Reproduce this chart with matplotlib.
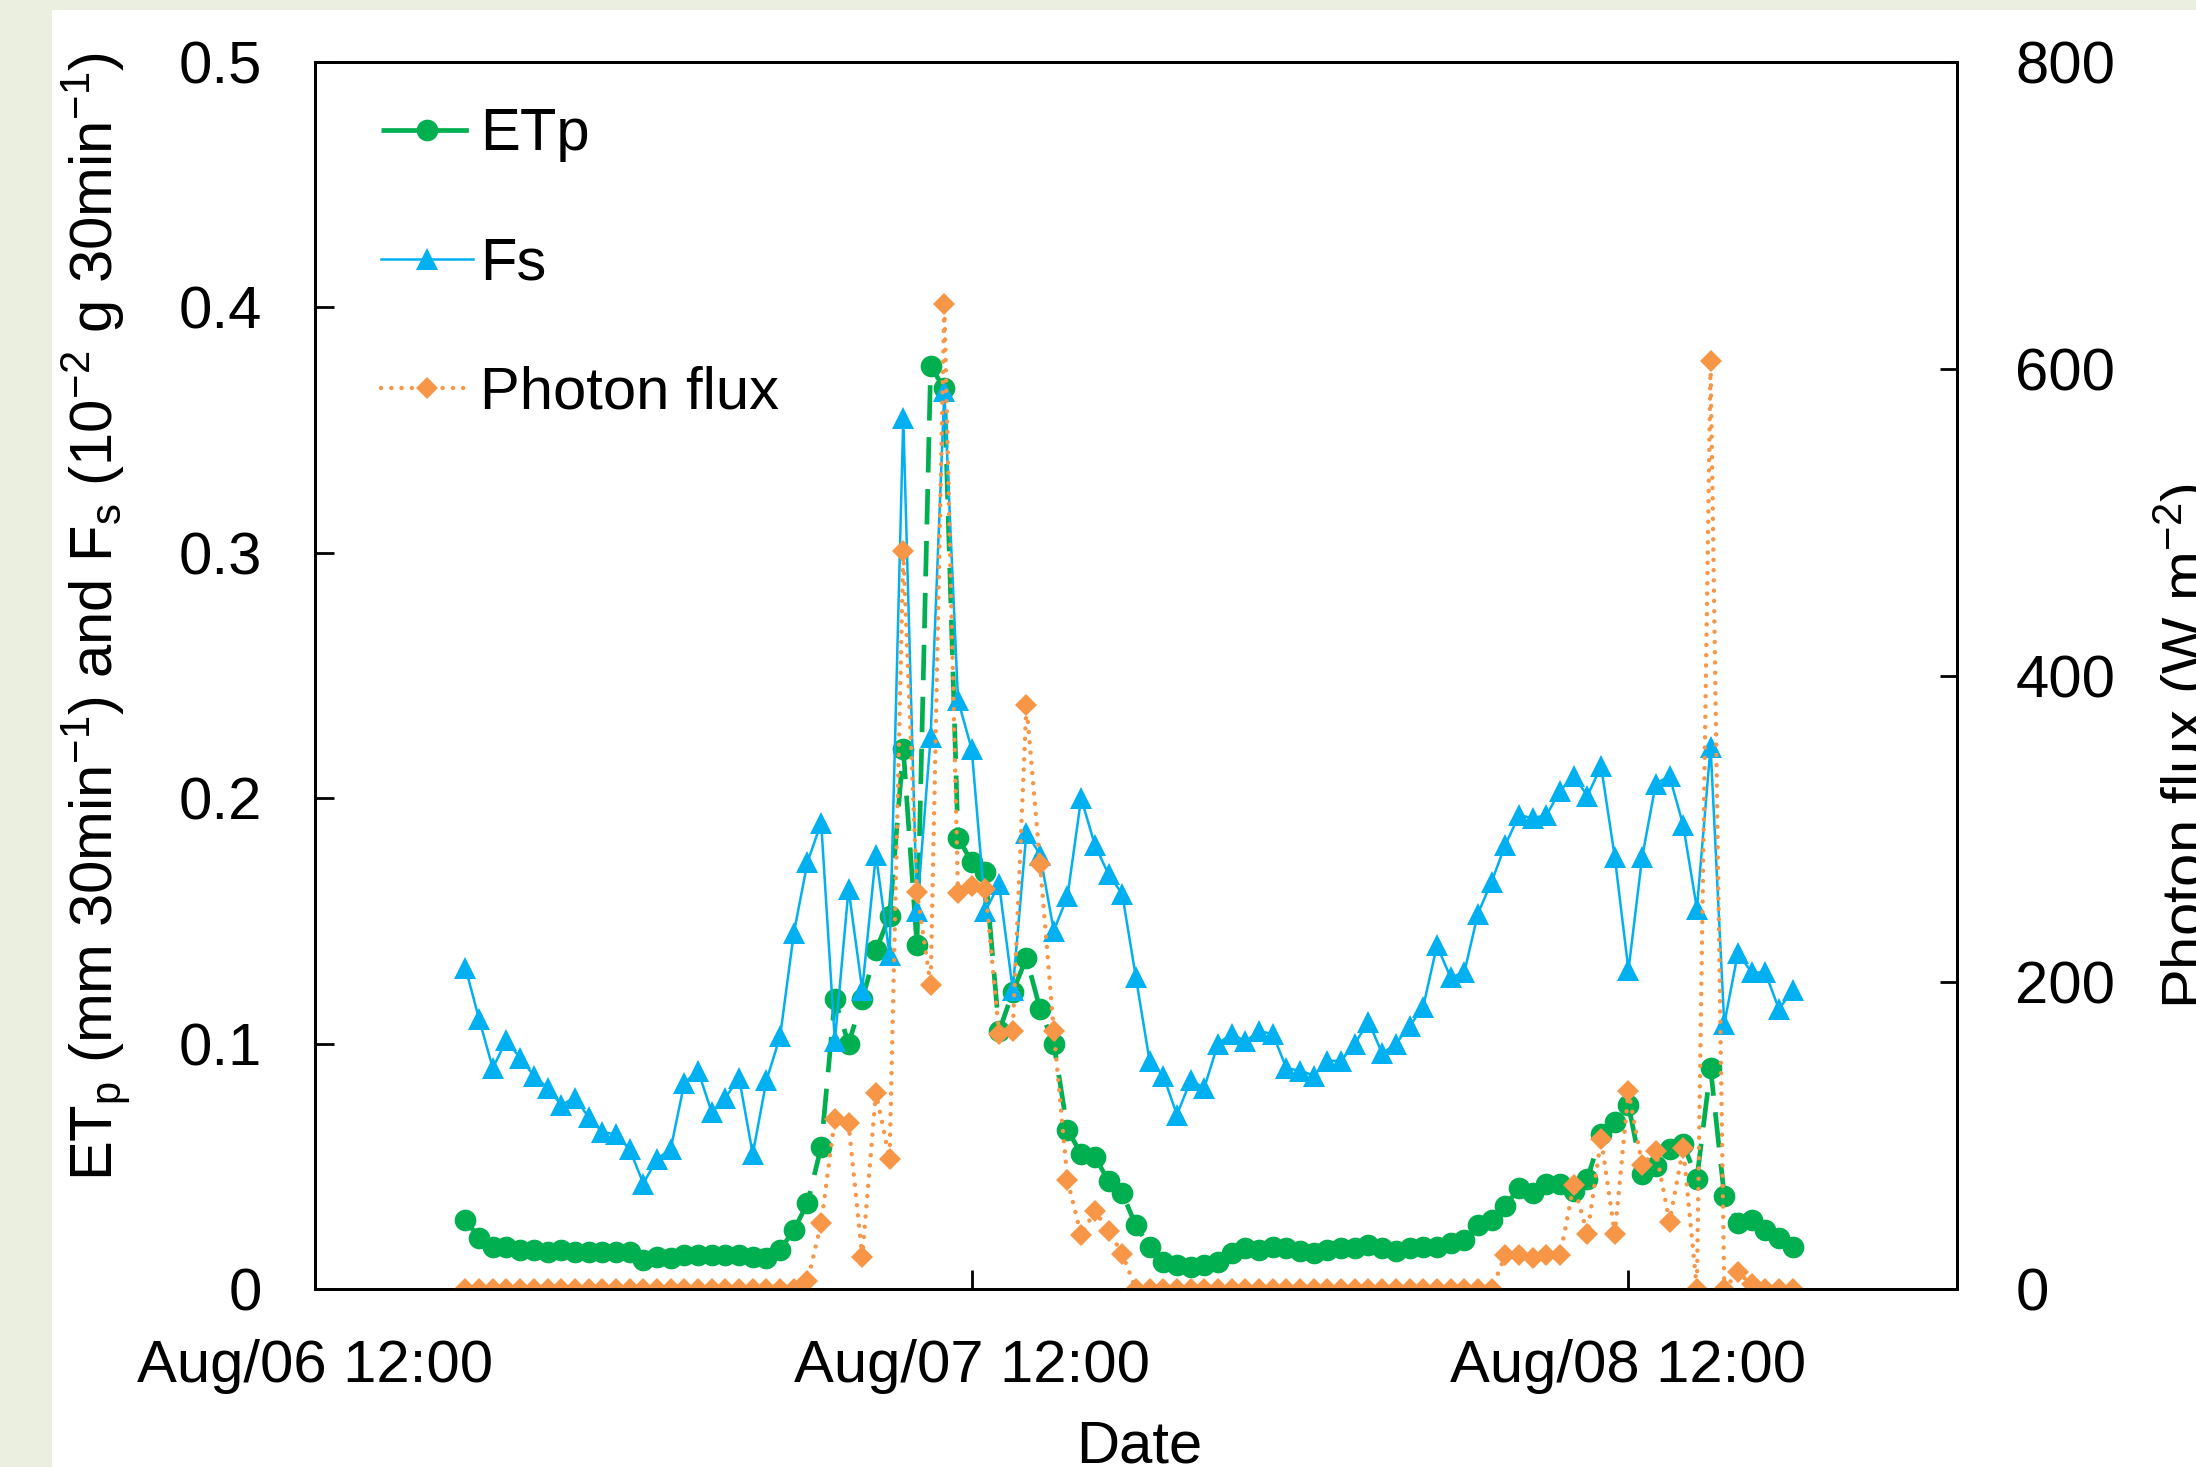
import matplotlib
matplotlib.use("Agg")
import matplotlib.pyplot as plt
import matplotlib.dates as mdates
from matplotlib.patches import Rectangle
from matplotlib.ticker import FuncFormatter
import pandas as pd

plt.rcParams['font.family'] = ['Liberation Sans', 'DejaVu Sans']
plt.rcParams['mathtext.fontset'] = 'custom'
plt.rcParams['mathtext.rm'] = 'Liberation Sans'
plt.rcParams['mathtext.it'] = 'Liberation Sans:italic'

# half-hourly readings, Aug 6 17:30 -> Aug 8 18:00
times = pd.date_range('2014-08-06 17:30', periods=98, freq='30min')

etp = [0.028, 0.021, 0.017, 0.017, 0.016, 0.016, 0.015, 0.016, 0.015, 0.015,
       0.015, 0.015, 0.015, 0.012, 0.013, 0.0125, 0.014, 0.014, 0.014, 0.014,
       0.014, 0.013, 0.0125, 0.016, 0.024, 0.035, 0.058, 0.118, 0.100, 0.118,
       0.138, 0.152, 0.220, 0.140, 0.376, 0.367, 0.184, 0.174, 0.170, 0.105,
       0.121, 0.135, 0.114, 0.100, 0.065, 0.055, 0.054, 0.044, 0.039, 0.026,
       0.017, 0.011, 0.010, 0.009, 0.0097, 0.011, 0.0146, 0.0167, 0.016, 0.017,
       0.0167, 0.0154, 0.0146, 0.016, 0.0167, 0.0167, 0.018, 0.0167, 0.0154, 0.0167,
       0.017, 0.017, 0.0186, 0.020, 0.026, 0.028, 0.034, 0.041, 0.039, 0.043,
       0.043, 0.040, 0.045, 0.063, 0.068, 0.075, 0.047, 0.050, 0.057, 0.059,
       0.045, 0.090, 0.038, 0.027, 0.028, 0.024, 0.021, 0.017]

fs = [0.131, 0.110, 0.090, 0.1015, 0.094, 0.087, 0.082, 0.075, 0.078, 0.070,
      0.064, 0.063, 0.057, 0.043, 0.053, 0.057, 0.084, 0.089, 0.072, 0.078,
      0.086, 0.055, 0.085, 0.103, 0.145, 0.174, 0.190, 0.101, 0.163, 0.122,
      0.177, 0.136, 0.355, 0.154, 0.225, 0.366, 0.240, 0.220, 0.154, 0.165,
      0.122, 0.186, 0.177, 0.146, 0.160, 0.200, 0.181, 0.169, 0.161, 0.127,
      0.093, 0.087, 0.071, 0.085, 0.082, 0.100, 0.104, 0.101, 0.105, 0.104,
      0.090, 0.089, 0.087, 0.093, 0.093, 0.100, 0.109, 0.096, 0.100, 0.107,
      0.115, 0.140, 0.127, 0.129, 0.153, 0.166, 0.181, 0.193, 0.192, 0.193,
      0.203, 0.209, 0.201, 0.213, 0.176, 0.130, 0.176, 0.206, 0.209, 0.189,
      0.155, 0.221, 0.108, 0.137, 0.129, 0.129, 0.114, 0.122]

photon = [0, 0, 0, 0, 0, 0, 0, 0, 0, 0,
          0, 0, 0, 0, 0, 0, 0, 0, 0, 0,
          0, 0, 0, 0, 0, 5, 43, 111, 108, 21,
          128, 85, 481, 259, 198, 642, 258, 263, 261, 166,
          168, 381, 277, 168, 71, 35, 51, 38, 23, 0,
          0, 0, 0, 0, 0, 0, 0, 0, 0, 0,
          0, 0, 0, 0, 0, 0, 0, 0, 0, 0,
          0, 0, 0, 0, 0, 0, 22, 22, 20, 22,
          22, 68, 36, 98, 36, 129, 81, 90, 44, 92,
          0, 605, 0, 11, 3, 0, 0, 0]

FS = 21.5
green = '#00B050'
blue = '#00B0F0'
orange = '#F79646'

fig = plt.figure(figsize=(10.98, 7.335), dpi=200, facecolor='#EBEFDF')
fig.patches.append(Rectangle((0.0237, 0), 1, 0.9932, transform=fig.transFigure,
                             facecolor='white', edgecolor='none', zorder=-10))

ax = fig.add_axes([0.1434, 0.1213, 0.7477, 0.8364])
ax2 = ax.twinx()

l1, = ax.plot(times, etp, color=green, lw=1.7, dashes=(7.5, 3.5),
              marker='o', ms=7.8, mec=green, mew=0, label='ETp')
l2, = ax.plot(times, fs, color=blue, lw=0.9, marker='^', ms=8.0,
              mec=blue, mew=0, label='Fs')
l3, = ax2.plot(times, photon, color=orange, lw=1.6, dashes=(0.01, 2.3),
               dash_capstyle='round', marker='D', ms=5.8, mec=orange, mew=0,
               label='Photon flux')

ax.set_xlim(pd.Timestamp('2014-08-06 12:00'), pd.Timestamp('2014-08-09 00:00'))
ax.set_ylim(0, 0.5)
ax2.set_ylim(0, 800)
ax.set_yticks([0, 0.1, 0.2, 0.3, 0.4, 0.5])
ax2.set_yticks([0, 200, 400, 600, 800])
ax.yaxis.set_major_formatter(FuncFormatter(lambda v, p: f'{v:g}'))
ax.xaxis.set_major_locator(mdates.HourLocator(byhour=[12]))
ax.xaxis.set_major_formatter(mdates.DateFormatter('%b/%d %H:%M'))

for a in (ax, ax2):
    for s in a.spines.values():
        s.set_linewidth(1.0)
ax.tick_params(axis='x', direction='in', length=7, width=1.0, pad=18, labelsize=FS)
ax.tick_params(axis='y', direction='in', length=7, width=1.0, pad=19, labelsize=FS)
ax2.tick_params(axis='y', direction='in', length=6, width=1.0, pad=21, labelsize=FS)

ax.set_ylabel(r'ET$_\mathregular{p}$ (mm 30min$^\mathregular{-1}$) and '
              r'F$_\mathregular{s}$ (10$^\mathregular{-2}$ g 30min$^\mathregular{-1}$)',
              fontsize=FS)
ax.yaxis.set_label_coords(-0.111, 0.5485)
ax2.set_ylabel(r'Photon flux (W m$^\mathregular{-2}$)', fontsize=FS)
ax2.yaxis.set_label_coords(1.119, 0.443)
ax.set_xlabel('Date', fontsize=FS)
ax.xaxis.set_label_coords(0.502, -0.106)

ax2.legend(handles=[l1, l2, l3], loc='upper left', bbox_to_anchor=(0.040, 0.963),
           frameon=False, fontsize=FS, borderaxespad=0, borderpad=0,
           handlelength=1.54, handletextpad=0.12, labelspacing=1.24)

fig.savefig('out.png', dpi=200, facecolor=fig.get_facecolor())
